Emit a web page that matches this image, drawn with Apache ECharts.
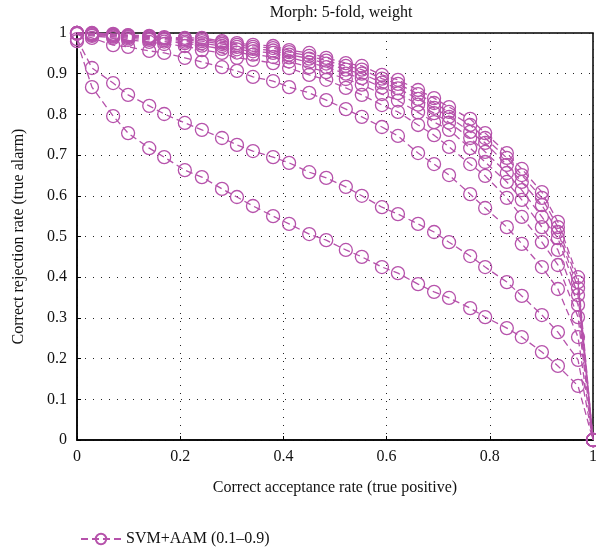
<!DOCTYPE html>
<html>
<head>
<meta charset="utf-8">
<script src="https://cdn.jsdelivr.net/npm/echarts@6/dist/echarts.min.js"></script>
<style>
  html, body { margin: 0; padding: 0; background: #fff; }
  #chart { width: 596px; height: 552px; }
</style>
</head>
<body>
<div id="chart"></div>
<script>
// shared correct acceptance rate (x) for every threshold
var tpr = [0, 0.029, 0.070, 0.099, 0.140, 0.169, 0.209, 0.242, 0.281, 0.310,
  0.341, 0.380, 0.411, 0.450, 0.483, 0.521, 0.552, 0.591, 0.622, 0.661,
  0.692, 0.721, 0.762, 0.791, 0.833, 0.862, 0.901, 0.932, 0.971, 1.0];

// correct rejection rate, one list per weight
var rejA = [0.980, 0.867, 0.796, 0.754, 0.717, 0.695, 0.663, 0.646, 0.617, 0.597,
  0.575, 0.550, 0.531, 0.506, 0.491, 0.467, 0.450, 0.425, 0.410, 0.383,
  0.364, 0.349, 0.324, 0.302, 0.275, 0.253, 0.216, 0.182, 0.133, 0];
var rejB = [0.985, 0.914, 0.877, 0.848, 0.821, 0.801, 0.779, 0.762, 0.742, 0.725,
  0.710, 0.695, 0.681, 0.658, 0.644, 0.622, 0.600, 0.572, 0.555, 0.531,
  0.511, 0.486, 0.452, 0.425, 0.388, 0.354, 0.307, 0.265, 0.197, 0];
var rejC = [0.998, 0.988, 0.970, 0.966, 0.956, 0.951, 0.939, 0.929, 0.916, 0.907,
  0.892, 0.882, 0.867, 0.853, 0.835, 0.813, 0.794, 0.769, 0.747, 0.705,
  0.678, 0.651, 0.604, 0.570, 0.523, 0.482, 0.425, 0.371, 0.253, 0];
var rejD = [0.998, 0.993, 0.988, 0.983, 0.978, 0.973, 0.968, 0.958, 0.951, 0.939,
  0.934, 0.926, 0.914, 0.897, 0.885, 0.865, 0.848, 0.823, 0.806, 0.774,
  0.749, 0.720, 0.678, 0.649, 0.595, 0.548, 0.486, 0.430, 0.302, 0];
var rejE = [1.0, 0.995, 0.991, 0.987, 0.983, 0.979, 0.975, 0.969, 0.961, 0.952,
  0.947, 0.941, 0.930, 0.916, 0.904, 0.887, 0.873, 0.850, 0.834, 0.805,
  0.781, 0.762, 0.717, 0.683, 0.634, 0.590, 0.523, 0.467, 0.332, 0];
var rejF = [1.0, 0.997, 0.993, 0.990, 0.986, 0.983, 0.979, 0.975, 0.968, 0.960,
  0.955, 0.951, 0.940, 0.928, 0.916, 0.900, 0.889, 0.866, 0.852, 0.824,
  0.803, 0.780, 0.742, 0.708, 0.656, 0.614, 0.548, 0.496, 0.356, 0];
var rejG = [1.0, 0.998, 0.995, 0.992, 0.989, 0.986, 0.983, 0.980, 0.973, 0.966,
  0.961, 0.957, 0.947, 0.937, 0.925, 0.910, 0.900, 0.878, 0.864, 0.838,
  0.816, 0.794, 0.757, 0.730, 0.676, 0.634, 0.577, 0.511, 0.373, 0];
var rejH = [1.0, 0.999, 0.996, 0.994, 0.991, 0.988, 0.985, 0.984, 0.977, 0.971,
  0.966, 0.963, 0.953, 0.944, 0.932, 0.919, 0.910, 0.888, 0.875, 0.850,
  0.828, 0.806, 0.774, 0.742, 0.693, 0.651, 0.595, 0.523, 0.388, 0];
var rejI = [1.0, 1.0, 0.998, 0.995, 0.993, 0.990, 0.988, 0.988, 0.980, 0.975,
  0.971, 0.968, 0.958, 0.951, 0.939, 0.926, 0.919, 0.897, 0.885, 0.860,
  0.840, 0.818, 0.789, 0.754, 0.705, 0.666, 0.609, 0.536, 0.400, 0];

var seriesName = 'SVM+AAM (0.1–0.9)';
var curves = [rejA, rejB, rejC, rejD, rejE, rejF, rejG, rejH, rejI];

var lineColor = '#b652ab';
var font = '"Liberation Serif", "DejaVu Serif", serif';

var myChart = echarts.init(document.getElementById('chart'));

var series = curves.map(function (rej) {
  return {
    name: seriesName,
    type: 'line',
    data: tpr.map(function (x, i) { return [x, rej[i]]; }),
    symbol: 'circle',
    symbolSize: 13,
    itemStyle: {
      color: 'rgba(255,255,255,0)',
      borderColor: lineColor,
      borderWidth: 1.3
    },
    lineStyle: {
      color: lineColor,
      width: 1.3,
      type: [7, 4]
    },
    emphasis: { disabled: true },
    animation: false
  };
});

myChart.setOption({
  title: {
    text: 'Morph: 5-fold, weight',
    left: 336,
    top: 0,
    textAlign: 'center',
    textStyle: {
      fontFamily: font,
      fontSize: 16,
      fontWeight: 'normal',
      color: '#111'
    }
  },
  grid: {
    left: 77,
    right: 3,
    top: 33,
    bottom: 112,
    outerBoundsMode: 'none',
    show: true,
    borderColor: '#000',
    borderWidth: 1.5
  },
  legend: {
    data: [seriesName],
    left: 75,
    top: 526,
    itemWidth: 40,
    itemHeight: 13,
    itemGap: 10,
    textStyle: {
      fontFamily: font,
      fontSize: 16,
      color: '#111'
    }
  },
  xAxis: {
    type: 'value',
    min: 0,
    max: 1,
    interval: 0.2,
    name: 'Correct acceptance rate (true positive)',
    nameLocation: 'middle',
    nameGap: 40,
    nameTextStyle: { fontFamily: font, fontSize: 16, color: '#111' },
    axisLine: { show: true, onZero: false, lineStyle: { color: '#000', width: 1.5 } },
    axisTick: { show: true, inside: true, length: 4, lineStyle: { color: '#000' } },
    axisLabel: { fontFamily: font, fontSize: 16, color: '#111', margin: 9 },
    splitLine: {
      show: true,
      lineStyle: { color: '#222', width: 1, type: [1, 7] }
    }
  },
  yAxis: {
    type: 'value',
    min: 0,
    max: 1,
    interval: 0.1,
    name: 'Correct rejection rate (true alarm)',
    nameLocation: 'middle',
    nameGap: 50,
    nameTextStyle: { fontFamily: font, fontSize: 16, color: '#111' },
    axisLine: { show: true, onZero: false, lineStyle: { color: '#000', width: 1.5 } },
    axisTick: { show: true, inside: true, length: 4, lineStyle: { color: '#000' } },
    axisLabel: { fontFamily: font, fontSize: 16, color: '#111', margin: 10 },
    splitLine: {
      show: true,
      lineStyle: { color: '#222', width: 1, type: [1, 7] }
    }
  },
  series: series
});
</script>
</body>
</html>
